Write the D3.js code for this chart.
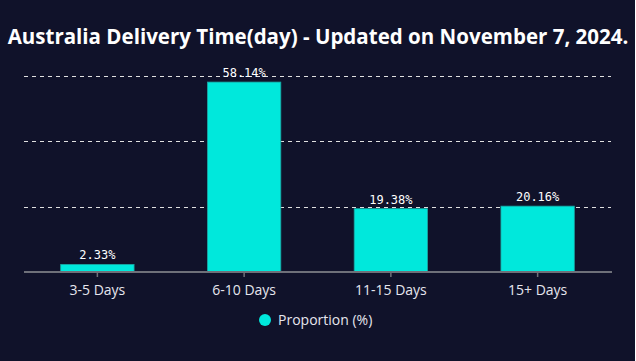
<!DOCTYPE html>
<html>
<head>
<meta charset="utf-8">
<script src="https://cdn.jsdelivr.net/npm/d3@7"></script>
<style>
html,body{margin:0;padding:0;background:#ffffff;overflow:hidden;}
svg{display:block;}
</style>
</head>
<body>
<svg id="chart" width="636" height="361"></svg>
<script>
const titleText = "Australia Delivery Time(day) - Updated on November 7, 2024.";
const categories = ["3-5 Days", "6-10 Days", "11-15 Days", "15+ Days"];
const values = [2.33, 58.14, 19.38, 20.16];
const yTicks = [0, 20, 40, 60];
const seriesName = "Proportion (%)";

(function draw() {
const H = 361;
const bg = "#10122a";
const barColor = "#00e8dc";
const svg = d3.select("#chart");
svg.append("rect").attr("x",0).attr("y",0).attr("width",635).attr("height",H).attr("fill",bg);

const mLeft = 24, mRight = 611, mTop = 76, mBottom = 272;
const x = d3.scaleBand().domain(categories).range([mLeft, mRight]).paddingInner(0).paddingOuter(0);
const y = d3.scaleLinear().domain([0, 60]).range([mBottom, mTop]);
const fmt = d => d3.format(".2f")(d) + "%";

// gridlines
svg.append("g").selectAll("line").data(yTicks.filter(t => t > 0)).join("line")
  .attr("x1", mLeft).attr("x2", mRight)
  .attr("y1", d => Math.round(y(d)) + 0.5).attr("y2", d => Math.round(y(d)) + 0.5)
  .attr("stroke", "#e0e0e0").attr("stroke-width", 1).attr("stroke-dasharray", "4,4");

// bars
const bw = x.bandwidth() * 0.5;
svg.append("g").selectAll("rect").data(values).join("rect")
  .attr("x", (d,i) => x(categories[i]) + (x.bandwidth() - bw)/2)
  .attr("y", d => y(d))
  .attr("width", bw)
  .attr("height", d => mBottom - y(d))
  .attr("fill", barColor)
  .attr("stroke", "#1aa6a2").attr("stroke-width", 0.8);

// value labels
svg.append("g").selectAll("text").data(values).join("text")
  .attr("x", (d,i) => x(categories[i]) + x.bandwidth()/2)
  .attr("y", d => y(d) - 5)
  .attr("text-anchor", "middle")
  .attr("font-family", "'DejaVu Sans Mono', 'Liberation Mono', monospace")
  .attr("font-size", 12)
  .attr("fill", "#ffffff")
  .text(d => fmt(d));

// x axis
const xAxis = d3.axisBottom(x).tickSize(5).tickPadding(8);
const gx = svg.append("g").attr("transform", `translate(0,${mBottom})`).call(xAxis);
gx.select(".domain").attr("stroke", "#6e7079").attr("stroke-width", 2).attr("d", `M${mLeft},0H${mRight+1}`);
gx.selectAll(".tick line").attr("stroke", "#6e7079").attr("stroke-width", 1.5);
gx.selectAll(".tick text").attr("fill", "#e6e6ee").attr("font-size", 14)
  .attr("font-family", "'Open Sans', 'Noto Sans', sans-serif");

// title
const title = svg.append("text")
  .attr("x", 318).attr("y", 44)
  .attr("text-anchor", "middle")
  .attr("font-family", "'Open Sans', 'Noto Sans', sans-serif")
  .attr("font-weight", "bold")
  .attr("font-size", 20)
  .attr("fill", "#ffffff")
  .text(titleText);
const tw = title.node().getComputedTextLength();
title.attr("font-size", 20 * 621 / tw);

// legend
const lg = svg.append("g");
lg.append("circle").attr("cx", 265).attr("cy", 320).attr("r", 6).attr("fill", barColor);
lg.append("text").attr("x", 278).attr("y", 325)
  .attr("font-family", "'Open Sans', 'Noto Sans', sans-serif")
  .attr("font-size", 14).attr("fill", "#e6e6ee").text(seriesName);
})();
</script>
</body>
</html>
